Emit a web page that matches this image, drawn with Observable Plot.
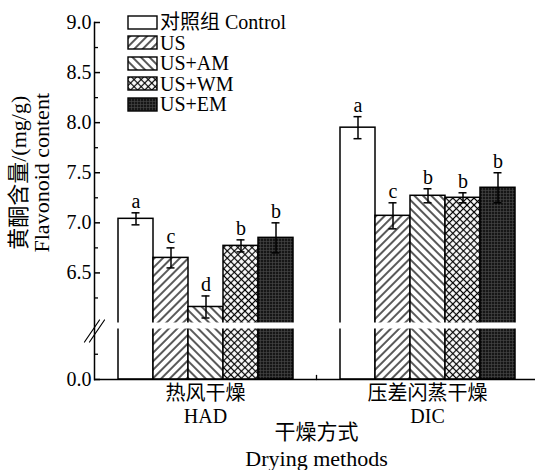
<!DOCTYPE html>
<html>
<head>
<meta charset="utf-8">
<script src="https://cdn.jsdelivr.net/npm/d3@7"></script>
<script src="https://cdn.jsdelivr.net/npm/@observablehq/plot@0.6"></script>
<style>
html, body { margin: 0; padding: 0; background: #fff; }
#wrap { position: relative; width: 535px; height: 470px; overflow: hidden;
  font-family: "Liberation Serif", "Noto Sans CJK SC", serif; color: #000; }
#legend { position: absolute; left: 127px; top: 12px; font-size: 20px; line-height: 20.5px; }
.row { display: flex; align-items: center; height: 20.5px; line-height: 20.5px; white-space: nowrap; }
.row svg { margin-right: 2px; flex: none; }
</style>
</head>
<body>
<svg width="0" height="0" style="position:absolute">
  <defs>
    <pattern id="p-us" patternUnits="userSpaceOnUse" width="6" height="6" patternTransform="rotate(45)">
      <rect width="6" height="6" fill="#fff"/>
      <line x1="3" y1="-1" x2="3" y2="7" stroke="#000" stroke-width="1.3"/>
    </pattern>
    <pattern id="p-am" patternUnits="userSpaceOnUse" width="6" height="6" patternTransform="rotate(-45)">
      <rect width="6" height="6" fill="#fff"/>
      <line x1="3" y1="-1" x2="3" y2="7" stroke="#000" stroke-width="1.3"/>
    </pattern>
    <pattern id="p-wm" patternUnits="userSpaceOnUse" width="5" height="5" patternTransform="rotate(45)">
      <rect width="5" height="5" fill="#fff"/>
      <line x1="2.5" y1="-1" x2="2.5" y2="6" stroke="#000" stroke-width="1.2"/>
      <line x1="-1" y1="2.5" x2="6" y2="2.5" stroke="#000" stroke-width="1.2"/>
    </pattern>
    <pattern id="p-em" patternUnits="userSpaceOnUse" width="6" height="6">
      <rect width="6" height="6" fill="#161616"/>
      <line x1="1.5" y1="0" x2="1.5" y2="6" stroke="#4a4a4a" stroke-width="0.6"/>
      <line x1="4.5" y1="0" x2="4.5" y2="6" stroke="#4a4a4a" stroke-width="0.6"/>
      <line x1="0" y1="1.5" x2="6" y2="1.5" stroke="#4a4a4a" stroke-width="0.6"/>
      <line x1="0" y1="4.5" x2="6" y2="4.5" stroke="#4a4a4a" stroke-width="0.6"/>
    </pattern>
  </defs>
</svg>
<div id="wrap"><div id="chart"></div><div id="legend"></div></div>
<script>
// ---- data ----
const groups = ["HAD", "DIC"];
const groupNamesZh = ["热风干燥", "压差闪蒸干燥"];
const series = ["Control", "US", "US+AM", "US+WM", "US+EM"];
const legendLabels = ["对照组 Control", "US", "US+AM", "US+WM", "US+EM"];
const hadMeans = [7.04, 6.65, 6.16, 6.77, 6.85];
const hadErrors = [0.06, 0.10, 0.11, 0.06, 0.15];
const hadLetters = ["a", "c", "d", "b", "b"];
const dicMeans = [7.95, 7.07, 7.27, 7.25, 7.35];
const dicErrors = [0.11, 0.13, 0.07, 0.05, 0.15];
const dicLetters = ["a", "c", "b", "b", "b"];
const yMajorTicks = [0, 6.5, 7.0, 7.5, 8.0, 8.5, 9.0];
const yMinorTicks = [0.25, 6.25, 6.75, 7.25, 7.75, 8.25, 8.75];
const axisBreak = [0.5, 6.0];
const yMax = 9.0;
const yTitleZh = "黄酮含量/(mg/g)";
const yTitleEn = "Flavonoid content";
const xTitleZh = "干燥方式";
const xTitleEn = "Drying methods";

// ---- styles ----
const FONT = '"Liberation Serif", "Noto Sans CJK SC", serif';
const patternFills = ["#ffffff", "url(#p-us)", "url(#p-am)", "url(#p-wm)", "url(#p-em)"];

const means = {HAD: hadMeans, DIC: dicMeans};
const errors = {HAD: hadErrors, DIC: dicErrors};
const letters = {HAD: hadLetters, DIC: dicLetters};
const zhName = Object.fromEntries(groups.map((g, i) => [g, groupNamesZh[i]]));

const rows = groups.flatMap(g => series.map((s, i) => ({
  group: g, series: s, mean: means[g][i], err: errors[g][i], letter: letters[g][i]
})));

const lineShape = {draw(ctx, l) { ctx.moveTo(0, 0); ctx.lineTo(0, -l); }};
const breakShape = {draw(ctx) {
  for (const o of [-2.5, 2.5]) { ctx.moveTo(-7.5 + o, 11); ctx.lineTo(7.5 + o, -11); }
}};
const yTitleCenter = 7.5;

const chart = Plot.plot({
  width: 535, height: 470,
  marginTop: 22, marginBottom: 91, marginLeft: 93, marginRight: -3,
  style: {fontFamily: FONT, fontSize: "20px", color: "#000", background: "transparent"},
  fx: {domain: groups, padding: 0, axis: null, label: null},
  x: {domain: series, paddingInner: 0, paddingOuter: 0.625, axis: null},
  y: {type: "linear", domain: [0, axisBreak[0], axisBreak[1], yMax], range: [379, 328.5, 322.5, 22], axis: null},
  color: {domain: series, range: patternFills},
  marks: [
    Plot.barY(rows, {fx: "group", x: "series", y: "mean", fill: "series", stroke: "#000", strokeWidth: 1.5}),
    Plot.ruleX(rows, {fx: "group", x: "series", y1: d => d.mean - d.err, y2: d => d.mean + d.err, stroke: "#000", strokeWidth: 1.5}),
    Plot.tickY(rows, {fx: "group", x: "series", y: d => d.mean + d.err, insetLeft: 13.5, insetRight: 13.5, stroke: "#000", strokeWidth: 1.5}),
    Plot.tickY(rows, {fx: "group", x: "series", y: d => d.mean - d.err, insetLeft: 13.5, insetRight: 13.5, stroke: "#000", strokeWidth: 1.5}),
    Plot.text(rows, {fx: "group", x: "series", y: d => d.mean + d.err, text: "letter", dy: -5, lineAnchor: "bottom", fontSize: 20}),
    // axis break gap
    Plot.rectY([axisBreak], {y1: d => d[0], y2: d => d[1], fill: "#fff"}),
    // axes lines
    Plot.frame({anchor: "left", facetAnchor: "left", stroke: "#000", strokeWidth: 1.5}),
    Plot.ruleY([0], {stroke: "#000", strokeWidth: 1.5}),
    Plot.vector([{g: groups[1]}], {fx: "g", frameAnchor: "bottom-left", length: 4, anchor: "start", shape: lineShape, stroke: "#000", strokeWidth: 1.3}),
    Plot.vector([{g: groups[0], v: (axisBreak[0] + axisBreak[1]) / 2}], {fx: "g", y: "v", frameAnchor: "left", length: 10, shape: breakShape, stroke: "#000", strokeWidth: 1.2}),
    // y axis
    Plot.axisY({ticks: yMajorTicks, tickFormat: d3.format(".1f"), tickSize: -6, tickPadding: 9, label: null, strokeWidth: 1.5, fontSize: 20}),
    Plot.axisY({ticks: yMinorTicks, tickFormat: () => "", tickSize: -4, tickPadding: 0, label: null, strokeWidth: 1.3}),
    // fx axis
    Plot.axisFx({anchor: "bottom", tickSize: 0, tickPadding: 5, tickFormat: d => zhName[d] + "\n" + d, label: null, lineHeight: 1.12, fontSize: 20}),
    // titles
    Plot.text([{g: groups[0], t: yTitleZh}], {fx: "g", text: "t", frameAnchor: "left", textAnchor: "middle", y: () => yTitleCenter, rotate: -90, dx: -76, fontSize: 22}),
    Plot.text([{g: groups[0], t: yTitleEn}], {fx: "g", text: "t", frameAnchor: "left", textAnchor: "middle", y: () => yTitleCenter, rotate: -90, dx: -53, fontSize: 22}),
    Plot.text([xTitleZh], {facet: "super", frameAnchor: "bottom", dy: 45, lineAnchor: "top", fontSize: 21}),
    Plot.text([xTitleEn], {facet: "super", frameAnchor: "bottom", dy: 71, lineAnchor: "top", fontSize: 22})
  ]
});
document.getElementById("chart").appendChild(chart);

// legend
const legend = d3.select("#legend");
series.forEach((s, i) => {
  const row = legend.append("div").attr("class", "row");
  const sw = row.append("svg").attr("width", 31).attr("height", 15);
  sw.append("rect").attr("x", 1).attr("y", 1).attr("width", 29).attr("height", 13)
    .attr("fill", patternFills[i]).attr("stroke", "#000").attr("stroke-width", 1.4);
  row.append("span").text(legendLabels[i]);
});
</script>
</body>
</html>
